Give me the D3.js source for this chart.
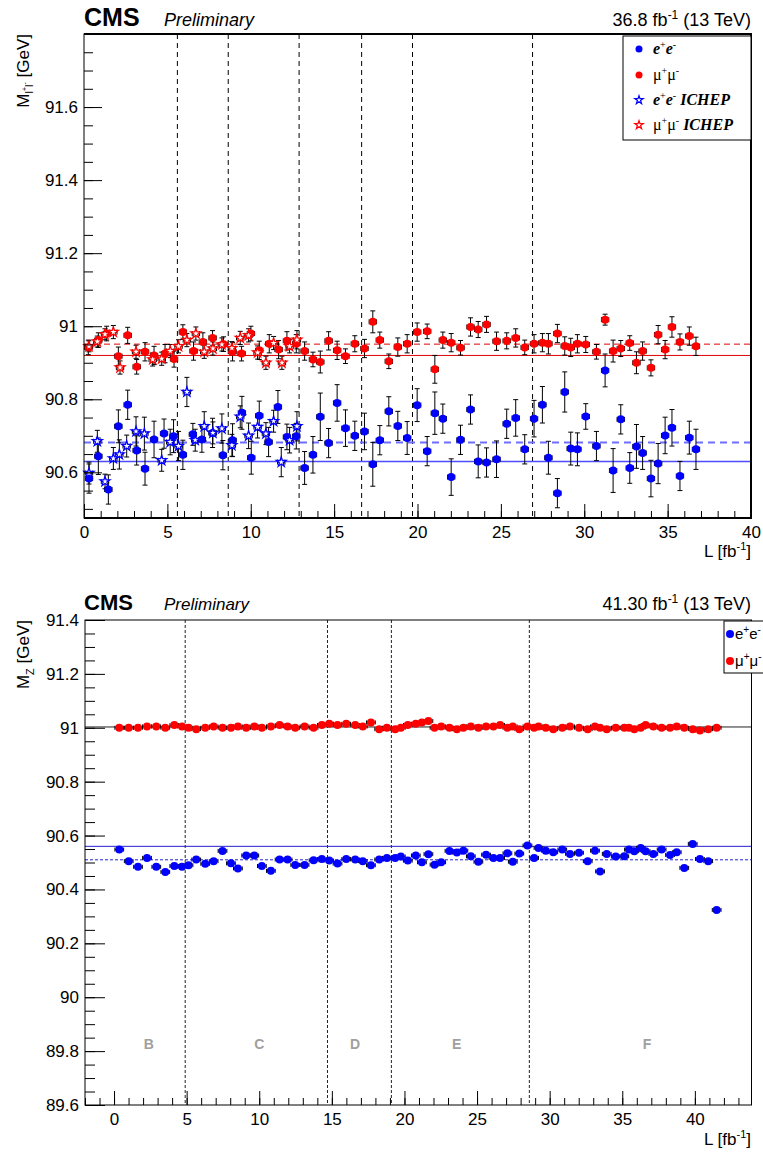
<!DOCTYPE html>
<html lang="en">
<head>
<meta charset="UTF-8" />
<title>Z mass vs integrated luminosity</title>
<script src="https://d3js.org/d3.v7.min.js"></script>
<style>
  body { margin: 0; background: #fff; }
  svg { display: block; font-family: "Liberation Sans", Arial, sans-serif; }
  .tick text { font-size: 17px; fill: #000; }
  .tick line, .domain { stroke: #000; }
</style>
</head>
<body>
<script>
// ---- top panel (2016): [L, mass, error] ----
const ee2016 = [
  [0.3, 90.583, 0.04], [0.86, 90.644, 0.05], [1.46, 90.553, 0.04], [2.06, 90.726, 0.045], [2.62, 90.785, 0.04],
  [3.16, 90.66, 0.04], [3.66, 90.61, 0.045], [4.2, 90.69, 0.05], [4.8, 90.706, 0.04], [5.37, 90.699, 0.045],
  [5.93, 90.648, 0.04], [6.53, 90.704, 0.03], [7.07, 90.69, 0.035], [7.71, 90.708, 0.04], [8.33, 90.647, 0.04],
  [8.91, 90.688, 0.045], [9.47, 90.763, 0.045], [10.03, 90.64, 0.045], [10.51, 90.755, 0.04], [11.07, 90.683, 0.04],
  [11.63, 90.779, 0.045], [12.17, 90.697, 0.035], [12.73, 90.699, 0.035], [13.23, 90.612, 0.045], [13.73, 90.648, 0.05],
  [14.17, 90.752, 0.065], [14.67, 90.68, 0.04], [15.18, 90.79, 0.05], [15.68, 90.721, 0.05], [16.24, 90.7, 0.04],
  [16.82, 90.712, 0.05], [17.32, 90.622, 0.06], [17.74, 90.688, 0.04], [18.28, 90.767, 0.04], [18.82, 90.727, 0.04],
  [19.38, 90.694, 0.045], [19.98, 90.784, 0.045], [20.58, 90.658, 0.04], [21.04, 90.762, 0.058], [21.52, 90.747, 0.04],
  [22.02, 90.587, 0.05], [22.58, 90.689, 0.04], [23.18, 90.772, 0.04], [23.64, 90.63, 0.045], [24.14, 90.627, 0.04],
  [24.74, 90.636, 0.05], [25.35, 90.733, 0.04], [25.89, 90.749, 0.05], [26.43, 90.663, 0.04], [26.99, 90.747, 0.05],
  [27.49, 90.785, 0.05], [27.85, 90.64, 0.045], [28.39, 90.543, 0.04], [28.83, 90.82, 0.055], [29.19, 90.665, 0.045],
  [29.59, 90.663, 0.045], [30.09, 90.753, 0.035], [30.73, 90.672, 0.04], [31.25, 90.879, 0.045], [31.73, 90.605, 0.06],
  [32.19, 90.745, 0.04], [32.73, 90.612, 0.042], [33.13, 90.671, 0.06], [33.5, 90.653, 0.045], [34.0, 90.583, 0.05],
  [34.43, 90.624, 0.055], [34.85, 90.701, 0.05], [35.26, 90.722, 0.05], [35.74, 90.59, 0.04], [36.3, 90.695, 0.045],
  [36.7, 90.663, 0.055]
];
const mm2016 = [
  [0.26, 90.942, 0.02], [0.86, 90.962, 0.02], [1.36, 90.98, 0.02], [2.06, 90.918, 0.025], [2.62, 90.975, 0.022],
  [3.16, 90.889, 0.02], [3.66, 90.93, 0.025], [4.2, 90.92, 0.025], [4.86, 90.925, 0.025], [5.4, 90.91, 0.022],
  [5.93, 90.984, 0.02], [6.57, 90.932, 0.025], [7.13, 90.957, 0.025], [7.71, 90.968, 0.02], [8.37, 90.951, 0.02],
  [8.91, 90.93, 0.025], [9.45, 90.925, 0.02], [10.01, 90.98, 0.02], [10.51, 90.934, 0.025], [11.11, 90.952, 0.025],
  [11.67, 90.936, 0.025], [12.17, 90.96, 0.025], [12.73, 90.952, 0.025], [13.23, 90.932, 0.025], [13.73, 90.909, 0.02],
  [14.17, 90.902, 0.03], [14.67, 90.96, 0.025], [15.18, 90.934, 0.025], [15.68, 90.918, 0.02], [16.24, 90.952, 0.022],
  [16.82, 90.939, 0.025], [17.32, 91.012, 0.03], [17.74, 90.962, 0.022], [18.28, 90.904, 0.02], [18.82, 90.943, 0.025],
  [19.38, 90.952, 0.025], [19.98, 90.984, 0.025], [20.58, 90.986, 0.02], [21.04, 90.882, 0.038], [21.52, 90.962, 0.022],
  [22.02, 90.955, 0.025], [22.58, 90.941, 0.02], [23.18, 90.998, 0.025], [23.64, 90.991, 0.022], [24.14, 91.005, 0.022],
  [24.74, 90.959, 0.025], [25.35, 90.96, 0.022], [25.89, 90.968, 0.025], [26.43, 90.942, 0.02], [26.99, 90.952, 0.025],
  [27.49, 90.955, 0.025], [27.85, 90.952, 0.028], [28.39, 90.98, 0.025], [28.83, 90.946, 0.025], [29.19, 90.942, 0.025],
  [29.59, 90.952, 0.025], [30.09, 90.95, 0.022], [30.73, 90.93, 0.02], [31.25, 91.018, 0.015], [31.73, 90.932, 0.03],
  [32.19, 90.939, 0.022], [32.73, 90.954, 0.02], [33.13, 90.9, 0.03], [33.5, 90.932, 0.025], [34.0, 90.886, 0.022],
  [34.43, 90.977, 0.025], [34.85, 90.936, 0.025], [35.26, 90.998, 0.028], [35.74, 90.957, 0.022], [36.3, 90.973, 0.025],
  [36.7, 90.945, 0.025]
];
const eeIchep = [
  [0.3, 90.598, 0.03], [0.8, 90.685, 0.03], [1.26, 90.575, 0.02], [1.76, 90.638, 0.03], [2.12, 90.649, 0.04],
  [2.56, 90.672, 0.03], [3.12, 90.712, 0.04], [3.62, 90.706, 0.045], [4.66, 90.633, 0.03], [5.17, 90.683, 0.035],
  [5.67, 90.672, 0.04], [6.17, 90.82, 0.04], [6.67, 90.688, 0.03], [7.21, 90.726, 0.04], [7.73, 90.708, 0.03],
  [8.27, 90.72, 0.04], [8.87, 90.674, 0.03], [9.37, 90.752, 0.03], [9.87, 90.7, 0.035], [10.41, 90.724, 0.03],
  [10.91, 90.706, 0.03], [11.37, 90.74, 0.03], [11.83, 90.628, 0.04], [12.33, 90.688, 0.035], [12.77, 90.726, 0.04]
];
const mmIchep = [
  [0.3, 90.945, 0.015], [0.8, 90.958, 0.015], [1.26, 90.978, 0.015], [1.76, 90.984, 0.018], [2.16, 90.887, 0.018],
  [3.12, 90.93, 0.018], [4.12, 90.909, 0.018], [4.66, 90.911, 0.018], [5.17, 90.932, 0.018], [5.67, 90.945, 0.018],
  [6.17, 90.962, 0.018], [6.71, 90.98, 0.018], [7.21, 90.93, 0.018], [7.73, 90.939, 0.018], [8.27, 90.95, 0.018],
  [8.87, 90.94, 0.018], [9.37, 90.968, 0.018], [9.87, 90.975, 0.018], [10.41, 90.928, 0.018], [10.91, 90.9, 0.018],
  [11.37, 90.954, 0.018], [11.87, 90.9, 0.018], [12.33, 90.945, 0.018], [12.77, 90.963, 0.025]
];
const eraBounds2016 = [5.6, 8.65, 12.9, 16.65, 19.7, 26.9];
const fit2016 = { ee: 90.63, eeIchep: 90.682, mm: 90.92, mmIchep: 90.951 };

// ---- bottom panel (2017): [L, mass] ----
const ee2017 = [
  [0.36, 90.548], [1.01, 90.505], [1.65, 90.484], [2.27, 90.517], [2.91, 90.484], [3.53, 90.465], [4.15, 90.487],
  [4.68, 90.484], [5.13, 90.49], [5.66, 90.511], [6.28, 90.495], [6.86, 90.505], [7.47, 90.543], [8.05, 90.497],
  [8.53, 90.478], [9.1, 90.526], [9.66, 90.526], [10.18, 90.487], [10.8, 90.469], [11.4, 90.511], [11.95, 90.511],
  [12.48, 90.491], [13.12, 90.491], [13.74, 90.508], [14.31, 90.513], [14.82, 90.507], [15.39, 90.496], [15.99, 90.513],
  [16.61, 90.511], [17.13, 90.505], [17.69, 90.49], [18.26, 90.511], [18.79, 90.517], [19.36, 90.517], [19.75, 90.522],
  [20.23, 90.507], [20.78, 90.526], [21.2, 90.501], [21.65, 90.531], [22.07, 90.492], [22.53, 90.501], [23.1, 90.543],
  [23.61, 90.537], [24.06, 90.544], [24.57, 90.523], [25.09, 90.503], [25.62, 90.529], [26.13, 90.517], [26.59, 90.517],
  [27.09, 90.534], [27.46, 90.503], [27.91, 90.533], [28.47, 90.563], [28.93, 90.517], [29.23, 90.554], [29.73, 90.544],
  [30.25, 90.538], [30.87, 90.548], [31.4, 90.532], [32.02, 90.536], [32.62, 90.505], [33.12, 90.544], [33.47, 90.467],
  [33.93, 90.532], [34.55, 90.522], [35.14, 90.523], [35.46, 90.548], [35.83, 90.542], [36.27, 90.554], [36.61, 90.542],
  [37.14, 90.532], [37.71, 90.548], [38.29, 90.528], [38.75, 90.538], [39.27, 90.48], [39.85, 90.569], [40.35, 90.513],
  [40.92, 90.505], [41.5, 90.324]
];
const mm2017 = [
  [0.36, 91.0], [1.01, 91.0], [1.65, 91.0], [2.27, 91.005], [2.91, 91.005], [3.53, 91.0], [4.15, 91.01],
  [4.68, 91.005], [5.13, 91.0], [5.66, 90.995], [6.28, 91.0], [6.86, 91.005], [7.47, 91.0], [8.05, 91.0],
  [8.53, 91.005], [9.1, 91.0], [9.66, 91.005], [10.18, 91.0], [10.8, 91.005], [11.4, 91.01], [11.95, 91.005],
  [12.48, 91.0], [13.12, 91.005], [13.74, 91.0], [14.31, 91.01], [14.82, 91.015], [15.39, 91.01], [15.99, 91.015],
  [16.61, 91.01], [17.13, 91.005], [17.69, 91.02], [18.26, 90.995], [18.79, 91.0], [19.36, 90.995], [19.75, 91.0],
  [20.23, 91.01], [20.78, 91.015], [21.2, 91.02], [21.65, 91.025], [22.07, 91.0], [22.53, 91.005], [23.1, 91.0],
  [23.61, 90.995], [24.06, 91.0], [24.57, 91.005], [25.09, 91.0], [25.62, 91.005], [26.13, 91.005], [26.59, 91.01],
  [27.09, 91.0], [27.46, 91.005], [27.91, 90.995], [28.47, 91.005], [28.93, 91.0], [29.23, 91.005], [29.73, 91.0],
  [30.25, 90.995], [30.87, 91.0], [31.4, 91.005], [32.02, 91.0], [32.62, 90.995], [33.12, 91.005], [33.47, 91.0],
  [33.93, 90.995], [34.55, 91.0], [35.14, 91.0], [35.46, 91.0], [35.83, 90.995], [36.27, 91.0], [36.61, 91.01],
  [37.14, 91.005], [37.71, 91.0], [38.29, 91.0], [38.75, 91.005], [39.27, 91.0], [39.85, 90.995], [40.35, 90.99],
  [40.92, 90.995], [41.5, 91.0]
];
const eraBounds2017 = [4.9, 14.7, 19.1, 28.6];
const eraNames2017 = ['B', 'C', 'D', 'E', 'F'];
const eraLabelPos2017 = [2.4, 10.0, 16.6, 23.6, 36.7];
const fit2017 = { ee: 90.56, eeAlt: 90.51, mm: 91.003 };

const xTicksMajor = [0, 5, 10, 15, 20, 25, 30, 35, 40];
const yTicksTop = [90.6, 90.8, 91, 91.2, 91.4, 91.6];
const yTicksBottom = [89.6, 89.8, 90, 90.2, 90.4, 90.6, 90.8, 91, 91.2, 91.4];

const BLUE = '#0000ff', RED = '#ff0000';

const svg = d3.select('body').append('svg').attr('width', 763).attr('height', 1152);
const fmt = d => String(+d.toFixed(1));

function axes(g, x, y, o) {
    const [x0, x1] = x.range(), [y1, y0] = y.range();
    const xMinor = d3.range(Math.ceil(x.domain()[0]), x.domain()[1] + 0.001, 1);
    const yMinor = d3.range(Math.ceil(y.domain()[0] * 20) / 20, y.domain()[1] + 1e-6, 0.05);
    g.append('g').attr('transform', `translate(0,${y1})`)
        .call(d3.axisBottom(x).tickValues(xMinor).tickSize(-o.xMinor).tickFormat(''))
        .call(s => s.select('.domain').remove());
    g.append('g').attr('transform', `translate(0,${y1})`)
        .call(d3.axisBottom(x).tickValues(xTicksMajor).tickSize(-o.xMajor).tickSizeOuter(0).tickPadding(8).tickFormat(d3.format('d')))
        .call(s => s.select('.domain').remove());
    g.append('g').attr('transform', `translate(${x0},0)`)
        .call(d3.axisLeft(y).tickValues(yMinor).tickSize(-o.yMinor).tickFormat(''))
        .call(s => s.select('.domain').remove());
    g.append('g').attr('transform', `translate(${x0},0)`)
        .call(d3.axisLeft(y).tickValues(o.yTicks).tickSize(-o.yMajor).tickSizeOuter(0).tickPadding(6).tickFormat(fmt))
        .call(s => s.select('.domain').remove());
    g.append('rect').attr('x', x0).attr('y', y0).attr('width', x1 - x0).attr('height', y1 - y0)
        .attr('fill', 'none').attr('stroke', '#000').attr('stroke-width', o.frame);
}

function errorBars(g, x, y, data, xe, cap) {
    g.append('g').attr('stroke', '#000').attr('stroke-width', 1).attr('fill', 'none')
        .selectAll('path').data(data).join('path')
        .attr('d', d => {
            const cx = x(d[0]), cy = y(d[1]);
            const xa = x(d[0] - xe), xb = x(d[0] + xe);
            let p = `M${xa},${cy}H${xb}M${xa},${cy - cap}V${cy + cap}M${xb},${cy - cap}V${cy + cap}`;
            if (d[2]) {
                const ya = y(d[1] - d[2]), yb = y(d[1] + d[2]);
                p += `M${cx},${ya}V${yb}M${cx - cap},${ya}H${cx + cap}M${cx - cap},${yb}H${cx + cap}`;
            }
            return p;
        });
}

function dots(g, x, y, data, color, r) {
    g.append('g').selectAll('circle').data(data).join('circle')
        .attr('cx', d => x(d[0])).attr('cy', d => y(d[1])).attr('r', r).attr('fill', color);
}

function stars(g, x, y, data, color) {
    g.append('g').selectAll('path').data(data).join('path')
        .attr('d', d3.symbol(d3.symbolStar, 30))
        .attr('transform', d => `translate(${x(d[0])},${y(d[1])})`)
        .attr('fill', '#fff').attr('stroke', color).attr('stroke-width', 1.3);
}

function header(yBase, lumi, cmsSize, preSize) {
    svg.append('text').attr('x', 84).attr('y', yBase).attr('font-size', cmsSize).attr('font-weight', 'bold').text('CMS');
    svg.append('text').attr('x', 164).attr('y', yBase).attr('font-size', preSize).attr('font-style', 'italic').text('Preliminary');
    const t = svg.append('text').attr('x', 751).attr('y', yBase).attr('font-size', 18).attr('text-anchor', 'end');
    t.append('tspan').text(lumi + ' fb');
    t.append('tspan').attr('font-size', 12).attr('dy', -7).text('-1');
    t.append('tspan').attr('dy', 7).text(' (13 TeV)');
}

function xTitle(yBase) {
    const t = svg.append('text').attr('x', 751).attr('y', yBase).attr('font-size', 17).attr('text-anchor', 'end');
    t.append('tspan').text('L [fb');
    t.append('tspan').attr('font-size', 11).attr('dy', -7).text('-1');
    t.append('tspan').attr('dy', 7).text(']');
}

// ================= TOP PANEL =================
const xTop = d3.scaleLinear().domain([0, 40]).range([84, 751]);
const yTop = d3.scaleLinear().domain([90.475, 91.8]).range([518, 34]);
const gTop = svg.append('g');

gTop.append('g').selectAll('line').data(eraBounds2016).join('line')
    .attr('x1', d => xTop(d)).attr('x2', d => xTop(d)).attr('y1', yTop.range()[1]).attr('y2', yTop.range()[0])
    .attr('stroke', '#000').attr('stroke-dasharray', '5,4');

const fitLinesTop = [
    { v: fit2016.mm, c: '#e00000', dash: null, w: 1 },
    { v: fit2016.mmIchep, c: '#e00000', dash: '6,4', w: 1 },
    { v: fit2016.ee, c: '#4d4dff', dash: null, w: 1.5 },
    { v: fit2016.eeIchep, c: '#6f6fff', dash: '7,5', w: 2 }
];
gTop.append('g').selectAll('line').data(fitLinesTop).join('line')
    .attr('x1', xTop(0)).attr('x2', xTop(40)).attr('y1', d => yTop(d.v)).attr('y2', d => yTop(d.v))
    .attr('stroke', d => d.c).attr('stroke-width', d => d.w).attr('stroke-dasharray', d => d.dash);

const xeTop = 0.22;
[ee2016, mm2016, eeIchep, mmIchep].forEach(s => errorBars(gTop, xTop, yTop, s, xeTop, 2.5));
dots(gTop, xTop, yTop, ee2016, BLUE, 4);
stars(gTop, xTop, yTop, eeIchep, BLUE);
dots(gTop, xTop, yTop, mm2016, RED, 4);
stars(gTop, xTop, yTop, mmIchep, RED);

axes(gTop, xTop, yTop, { xMajor: 14, xMinor: 7, yMajor: 18, yMinor: 9, yTicks: yTicksTop, frame: 1 });
// thicker border as in the reference
gTop.append('path').attr('d', `M84,34H751V518H84`).attr('fill', 'none').attr('stroke', '#000').attr('stroke-width', 2);

// legend
const legTop = svg.append('g');
legTop.append('rect').attr('x', 623).attr('y', 36).attr('width', 128).attr('height', 104)
    .attr('fill', '#fff').attr('stroke', '#000');
const legRows = [
    { y: 49, kind: 'dot', c: BLUE, parts: [['e', 'bi'], ['+', 'sup'], ['e', 'bi'], ['-', 'sup']] },
    { y: 75, kind: 'dot', c: RED, parts: [['μ', 'n'], ['+', 'sup'], ['μ', 'n'], ['-', 'sup']] },
    { y: 100, kind: 'star', c: BLUE, parts: [['e', 'bi'], ['+', 'sup'], ['e', 'bi'], ['-', 'sup'], [' ICHEP', 'bi']] },
    { y: 125, kind: 'star', c: RED, parts: [['μ', 'n'], ['+', 'sup'], ['μ', 'n'], ['-', 'sup'], [' ICHEP', 'bi']] }
];
legRows.forEach(r => {
    if (r.kind === 'dot') legTop.append('circle').attr('cx', 639).attr('cy', r.y).attr('r', 3.5).attr('fill', r.c);
    else legTop.append('path').attr('d', d3.symbol(d3.symbolStar, 22)).attr('transform', `translate(639,${r.y})`)
        .attr('fill', '#fff').attr('stroke', r.c).attr('stroke-width', 1.2);
    const t = legTop.append('text').attr('x', 653).attr('y', r.y + 5).attr('font-family', '"Liberation Serif", "Times New Roman", serif').attr('font-size', 16);
    let up = false;
    r.parts.forEach(([s, k]) => {
        const ts = t.append('tspan').text(s);
        if (k === 'sup') { ts.attr('font-size', 10).attr('dy', -6); up = true; }
        else if (up) { ts.attr('dy', 6); up = false; }
        if (k === 'bi') ts.attr('font-weight', 'bold').attr('font-style', 'italic');
    });
});

header(26, '36.8', 25, 18);
xTitle(557);
{
    const t = svg.append('text').attr('transform', 'translate(29,34) rotate(-90)').attr('text-anchor', 'end').attr('font-size', 17);
    t.append('tspan').text('M');
    t.append('tspan').attr('font-size', 11).attr('dy', 4).text('l');
    t.append('tspan').attr('font-size', 7).attr('dy', -6).text('+');
    t.append('tspan').attr('font-size', 11).attr('dy', 6).text('l');
    t.append('tspan').attr('font-size', 7).attr('dy', -6).text('-');
    t.append('tspan').attr('dy', 2).text(' [GeV]');
}

// ================= BOTTOM PANEL =================
const xBot = d3.scaleLinear().domain([-2, 43.9]).range([85, 751.5]);
const yBot = d3.scaleLinear().domain([89.6, 91.4]).range([1105, 620]);
const gBot = svg.append('g');

gBot.append('g').selectAll('line').data(eraBounds2017).join('line')
    .attr('x1', d => xBot(d)).attr('x2', d => xBot(d)).attr('y1', yBot.range()[1]).attr('y2', yBot.range()[0])
    .attr('stroke', '#222').attr('stroke-dasharray', '3,2');

gBot.append('g').selectAll('text').data(eraNames2017).join('text')
    .attr('x', (d, i) => xBot(eraLabelPos2017[i])).attr('y', 1049).attr('text-anchor', 'middle')
    .attr('font-size', 14).attr('font-weight', 'bold').attr('fill', '#a0a0a0').text(d => d);

const fitLinesBot = [
    { v: fit2017.mm, c: '#222', dash: null },
    { v: fit2017.ee, c: '#2222cc', dash: null },
    { v: fit2017.eeAlt, c: '#2222cc', dash: '3,2' }
];
gBot.append('g').selectAll('line').data(fitLinesBot).join('line')
    .attr('x1', xBot.range()[0]).attr('x2', xBot.range()[1]).attr('y1', d => yBot(d.v)).attr('y2', d => yBot(d.v))
    .attr('stroke', d => d.c).attr('stroke-width', 1).attr('stroke-dasharray', d => d.dash);

const xeBot = 0.3;
errorBars(gBot, xBot, yBot, ee2017, xeBot, 2);
errorBars(gBot, xBot, yBot, mm2017, xeBot, 2);
dots(gBot, xBot, yBot, ee2017, BLUE, 4);
dots(gBot, xBot, yBot, mm2017, RED, 4);

axes(gBot, xBot, yBot, { xMajor: 14, xMinor: 7, yMajor: 20, yMinor: 10, yTicks: yTicksBottom, frame: 1 });

// legend (runs off the right edge like the reference)
const legBot = svg.append('g');
legBot.append('rect').attr('x', 724).attr('y', 621).attr('width', 70).attr('height', 52).attr('fill', '#fff').attr('stroke', '#000');
[[634, BLUE, 'e', 'e'], [661, RED, 'μ', 'μ']].forEach(([yy, c, a, b]) => {
    legBot.append('circle').attr('cx', 730).attr('cy', yy).attr('r', 4).attr('fill', c);
    const t = legBot.append('text').attr('x', 735).attr('y', yy + 5).attr('font-size', 15);
    t.append('tspan').text(a);
    t.append('tspan').attr('font-size', 10).attr('dy', -6).text('+');
    t.append('tspan').attr('dy', 6).text(b);
    t.append('tspan').attr('font-size', 10).attr('dy', -6).text('-');
});

header(610, '41.30', 22, 17);
xTitle(1145);
{
    const t = svg.append('text').attr('transform', 'translate(29,620) rotate(-90)').attr('text-anchor', 'end').attr('font-size', 17);
    t.append('tspan').text('M');
    t.append('tspan').attr('font-size', 11).attr('dy', 5).text('Z');
    t.append('tspan').attr('dy', -5).text(' [GeV]');
}
</script>
</body>
</html>
